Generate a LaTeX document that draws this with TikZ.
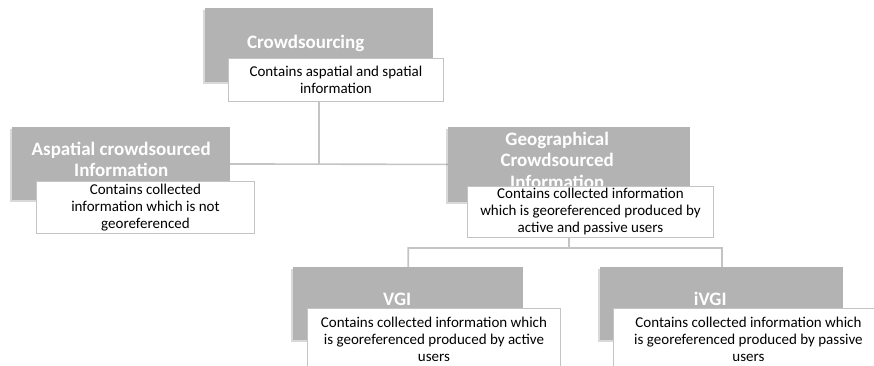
\documentclass[tikz,border=0pt]{standalone}
\usepackage{fontspec}
\setmainfont{Carlito}
\usepackage{tikz}
\usetikzlibrary{positioning,calc,shadows,backgrounds}

\definecolor{boxgray}{HTML}{B3B3B3}
\definecolor{linkgray}{HTML}{C4C4C4}

\begin{document}
\begin{tikzpicture}[
    x=1pt,
    y=-1pt,
    titlebox/.style={fill=boxgray, inner sep=0pt, anchor=north west,
      drop shadow={shadow xshift=-2pt, shadow yshift=-2pt, opacity=0.25, fill=black!60}},
    titletext/.style={text=white, font=\fontsize{19}{21.5}\selectfont\bfseries, align=center, inner sep=0pt},
    notebox/.style={draw=linkgray, fill=white, line width=0.9pt, anchor=north west,
      inner sep=0pt, font=\fontsize{15}{17}\selectfont, align=center},
    link/.style={draw=linkgray, line width=1.6pt}
]
\clip (0,0) rectangle (874,365);
\useasboundingbox (0,0) rectangle (874,365);

% top level
\node[titlebox, minimum width=228, minimum height=74] (crowdbox) at (205,8) {};
\node[titletext] (crowdtitle) at ($(crowdbox.center)+(-13.5,-2)$) {Crowdsourcing};
\node[notebox, minimum width=215, minimum height=43] (crowdnote) at (228,58)
  {Contains aspatial and spatial\\information};

% second level
\node[titlebox, minimum width=218, minimum height=73] (aspbox) at (12,127) {};
\node[titletext] (asptitle) at ($(aspbox.center)+(0,-4.5)$) {Aspatial crowdsourced\\Information};
\node[notebox, minimum width=218, minimum height=52] (aspnote) at (36,181)
  {Contains collected\\information which is not\\georeferenced};

\node[titlebox, minimum width=242, minimum height=75] (geobox) at (448,127) {};
\node[titletext] (geotitle) at ($(geobox.center)+(-12,-4.5)$) {Geographical\\Crowdsourced\\Information};
\node[notebox, minimum width=246, minimum height=51] (geonote) at (467,186)
  {Contains collected information\\which is georeferenced produced\ by\\active and passive users};

% third level
\node[titlebox, minimum width=230, minimum height=73] (vgibox) at (293,267) {};
\node[titletext] (vgititle) at ($(vgibox.center)+(-11,-4.5)$) {VGI};
\node[notebox, minimum width=253, minimum height=62] (vginote) at (307,308)
  {Contains collected information\ which\\is georeferenced produced\ by active\\users};

\node[titlebox, minimum width=243, minimum height=73] (ivgibox) at (600,267) {};
\node[titletext] (ivgititle) at ($(ivgibox.center)+(-11.5,-4.5)$) {iVGI};
\node[notebox, minimum width=270, minimum height=62] (ivginote) at (613,308)
  {Contains collected information\ which\\is georeferenced produced\ by passive\\users};

% connectors
\coordinate (fork) at (569,248);
\begin{scope}[on background layer]
  \draw[link] (crowdbox.center) -- (crowdbox |- aspbox.center);
  \draw[link] (aspbox.center) -- (geobox.center);
  \draw[link] (geobox.center) -- (fork) -| (vgibox.center);
  \draw[link] (fork) -| (ivgibox.center);
\end{scope}
\end{tikzpicture}
\end{document}
